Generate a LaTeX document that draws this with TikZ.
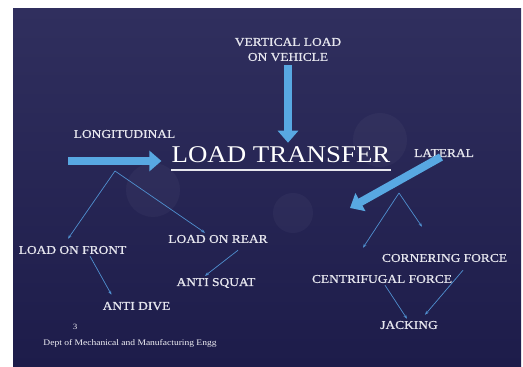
\documentclass[tikz,border=0pt]{standalone}
\usepackage{fontspec}
\usetikzlibrary{arrows.meta}
\newfontfamily\slidefont[FakeStretch=1.12]{Liberation Serif}
\newfontfamily\slidebold[FakeStretch=1.12,FakeBold=0.8]{Liberation Serif}
\definecolor{bgtop}{HTML}{302F5E}
\definecolor{bgbottom}{HTML}{1D1C4A}
\definecolor{slidetext}{HTML}{E6E6EE}
\definecolor{arrowblue}{HTML}{58A8E2}
\definecolor{lineblue}{HTML}{5090D0}
\tikzset{
	lbl/.style={text=slidetext, font=\slidebold\fontsize{12}{15}\selectfont, inner sep=2pt},
	bigarrow/.style={draw=arrowblue, line width=8pt, -{Triangle[width=20pt,length=12pt]}},
	branch/.style={draw=lineblue, line width=0.7pt, -{Stealth[length=4pt,width=3pt]}}
}
\begin{document}
\begin{tikzpicture}[x=1pt,y=1pt]
	\useasboundingbox (0,0) rectangle (523,367);
	\shade[top color=bgtop, bottom color=bgbottom] (13,0) rectangle (521,358);
	\fill[white, opacity=.035] (380,227) circle (27);
	\fill[white, opacity=.035] (153,177) circle (27);
	\fill[white, opacity=.035] (293,154) circle (20);
	
	\node[lbl, align=center] at (288,317.5) (vert) {VERTICAL LOAD\\ON VEHICLE};
	\node[lbl] at (124.5,233) (long) {LONGITUDINAL};
	\node[lbl] at (444,214) (lat) {LATERAL};
	\node[text=white, font=\slidefont\fontsize{24}{28}\selectfont, inner sep=0pt] at (281,212) (title) {LOAD TRANSFER};
	\draw[slidetext, line width=1.4pt] ([yshift=-7pt]title.base west) -- ([yshift=-7pt]title.base east);
	
	\coordinate (ltail) at (68,206);
	\coordinate (rtail) at (441,210);
	\coordinate (rtip) at (350,159);
	\draw[bigarrow] ([yshift=-2pt]vert.south) -- ([yshift=4pt]vert.south |- title.north);
	\draw[bigarrow] (ltail) -- ([xshift=-10pt]ltail -| title.west);
	\draw[bigarrow] (rtail) -- (rtip);
	
	\node[lbl] at (72.5,117) (front) {LOAD ON FRONT};
	\node[lbl] at (218,128) (rear) {LOAD ON REAR};
	\node[lbl] at (136.5,61) (antidive) {ANTI DIVE};
	\node[lbl] at (216,84) (antisquat) {ANTI SQUAT};
	\coordinate (lapex) at (115,196);
	\draw[branch] (lapex) -- ([shift={(-4.5pt,5pt)}]front.north);
	\draw[branch] (lapex) -- ([xshift=-13pt]rear.north);
	\draw[branch] ([xshift=17.5pt]front.south) -- ([shift={(-25pt,5pt)}]antidive.north);
	\draw[branch] ([shift={(20pt,-5pt)}]rear.south) -- ([xshift=-11pt]antisquat.north);
	
	\node[lbl] at (444.5,109) (corner) {CORNERING FORCE};
	\node[lbl] at (382,88) (centri) {CENTRIFUGAL FORCE};
	\node[lbl] at (409,42) (jack) {JACKING};
	\coordinate (rapex) at (399,174);
	\draw[branch] (rapex) -- ([shift={(-19pt,25pt)}]centri.north);
	\draw[branch] (rapex) -- ([shift={(-22.5pt,25pt)}]corner.north);
	\draw[branch] ([xshift=3pt]centri.south) -- ([xshift=-2pt]jack.north);
	\draw[branch] ([shift={(18.5pt,-6pt)}]corner.south) -- ([shift={(16pt,4pt)}]jack.north);
	
	\node[text=slidetext!70, font=\slidefont\fontsize{8}{9}\selectfont] at (75,40) (num) {3};
	\node[text=slidetext!60, font=\slidefont\fontsize{8.5}{10}\selectfont] at (130,24) (dept) {Dept of Mechanical and Manufacturing Engg};
\end{tikzpicture}
\end{document}
